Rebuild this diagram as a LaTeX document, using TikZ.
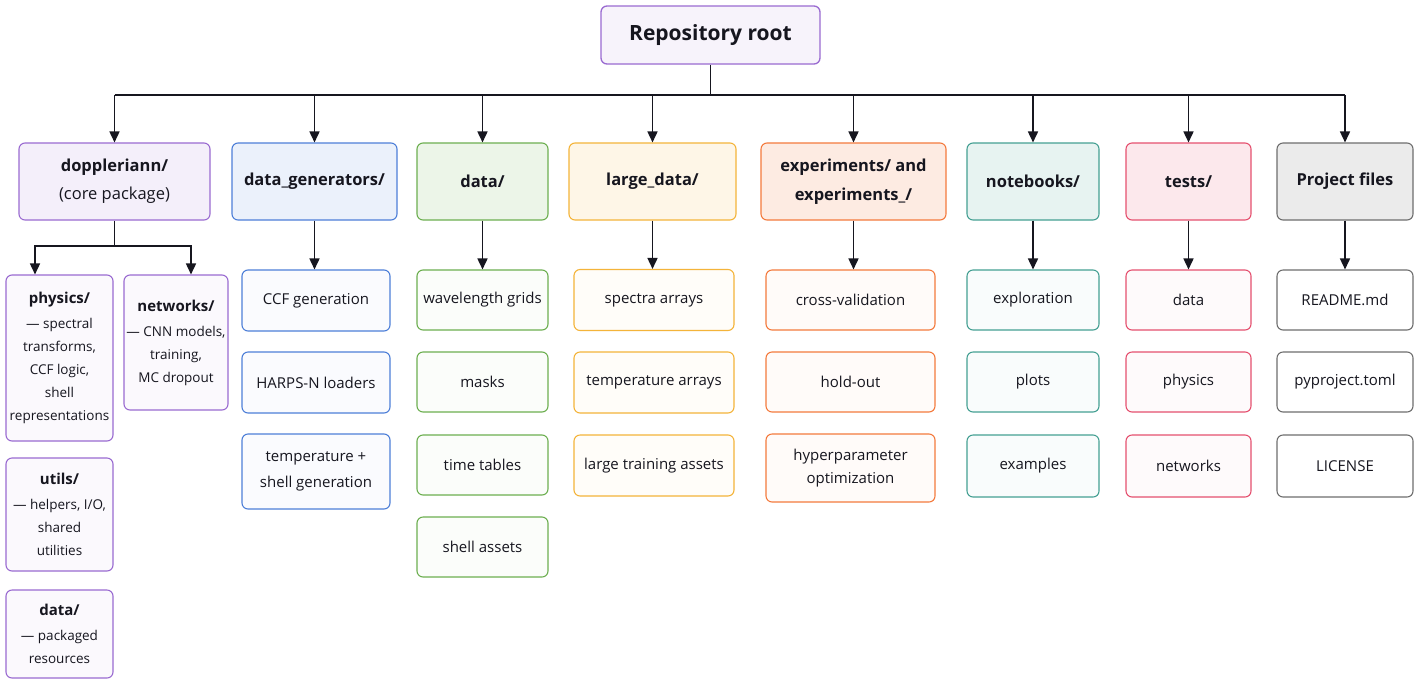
\documentclass[tikz,border=0pt]{standalone}
\usepackage{fontspec}
\setmainfont{Open Sans}
\usepackage{tikz}
\usetikzlibrary{positioning,arrows.meta,calc}
\definecolor{ink}     {HTML}{16161F}
\definecolor{plum}    {HTML}{9A6BD1}
\definecolor{cobalt}  {HTML}{4D7FD8}
\definecolor{leaf}    {HTML}{6DAF50}
\definecolor{amber}   {HTML}{F4B43A}
\definecolor{tangelo} {HTML}{F47A3D}
\definecolor{teal}    {HTML}{45A093}
\definecolor{rose}    {HTML}{E5506F}
\definecolor{slate}   {HTML}{6E6E6E}
\tikzset{
  x=1pt, y=-1pt,
  every node/.style={text=ink},
  % --- boxes
  box/.style   = {rounded corners=6pt, line width=1.1pt, align=center, inner sep=0pt,
                  font=\fontsize{15}{26}\selectfont},
  top/.style   = {box, minimum height=77pt, font=\fontsize{16.5}{29}\selectfont\bfseries},
  sub/.style   = {box, minimum height=61pt},
  pkg/.style   = {box, draw=plum, fill=plum!4, font=\fontsize{13.5}{23}\selectfont},
  % one colour per column: the folder box and its entries
  ptop/.style  = {top, draw=plum, fill=plum!11},
  gtop/.style  = {top, draw=cobalt, fill=cobalt!11},  gsub/.style={sub, draw=cobalt, fill=cobalt!3},
  dtop/.style  = {top, draw=leaf, fill=leaf!13},      dsub/.style={sub, draw=leaf, fill=leaf!3},
  ltop/.style  = {top, draw=amber, fill=amber!12},    lsub/.style={sub, draw=amber, fill=amber!3},
  xtop/.style  = {top, draw=tangelo, fill=tangelo!15},xsub/.style={sub, draw=tangelo, fill=tangelo!3},
  ntop/.style  = {top, draw=teal, fill=teal!13},      nsub/.style={sub, draw=teal, fill=teal!3},
  ttop/.style  = {top, draw=rose, fill=rose!13},      tsub/.style={sub, draw=rose, fill=rose!3},
  ftop/.style  = {top, draw=slate, fill=slate!14},    fsub/.style={sub, draw=slate, fill=white},
  % --- edges
  ln/.style    = {line width=1.6pt, draw=ink},
  e/.style     = {ln, -{Triangle[length=11pt,width=10pt]}},
}
\begin{document}
\begin{tikzpicture}
  \useasboundingbox (0,0) rectangle (1426,694);
  \fill[white] (0,0) rectangle (1426,694);

  \node[box, draw=plum, fill=plum!8, line width=1.3pt, minimum width=219pt, minimum height=58pt,
        font=\fontsize{21}{25}\selectfont\bfseries] (root) at (710.5,35) {Repository root};

  % folders
  \node[ptop, minimum width=191pt] (dop) at (114.5,181.5)
    {doppleriann/\\[-1pt]{\mdseries (core package)}};
  \node[gtop, minimum width=165pt] (gen) at (314.5,181.5) {data\_generators/};
  \node[dtop, minimum width=131pt] (dat) at (482.5,181.5) {data/};
  \node[ltop, minimum width=167pt] (lrg) at (652.5,181.5) {large\_data/};
  \node[xtop, minimum width=185pt] (exp) at (853.5,181.5) {experiments/ and\\experiments\_/};
  \node[ntop, minimum width=132pt] (nbk) at (1033,181.5) {notebooks/};
  \node[ttop, minimum width=125pt] (tst) at (1188.5,181.5) {tests/};
  \node[ftop, minimum width=136pt] (prj) at (1345,181.5) {Project files};

  % bus from the root
  \coordinate (bus) at (710.5,95);
  \draw[ln] (root.south) -- (bus);
  \draw[ln] (bus -| dop.north) -- (bus -| prj.north);
  \foreach \n in {dop,gen,dat,lrg,exp,nbk,tst,prj}
    \draw[e] (bus -| \n.north) -- (\n.north);

  % doppleriann/ subpackages
  \node[pkg, minimum width=107pt, minimum height=166pt] (phy) at (59.5,358)
    {\textbf{\fontsize{15}{23}\selectfont physics/}\\[2pt]--- spectral\\transforms,\\CCF logic,\\shell\\representations};
  \node[pkg, minimum width=104pt, minimum height=135pt] (net) at (176,342.5)
    {\textbf{\fontsize{15}{23}\selectfont networks/}\\[2pt]--- CNN models,\\training,\\MC dropout};
  \node[pkg, minimum width=107pt, minimum height=113pt] (utl) at (59.5,514.5)
    {\textbf{\fontsize{15}{23}\selectfont utils/}\\[2pt]--- helpers, I/O,\\shared\\utilities};
  \node[pkg, minimum width=107pt, minimum height=88pt] (pdt) at (59.5,634)
    {\textbf{\fontsize{15}{23}\selectfont data/}\\[2pt]--- packaged\\resources};
  \coordinate (split) at (114.5,246);
  \draw[ln] (dop.south) -- (split);
  \draw[e] (split) -| ([xshift=-24.5pt]phy.north);
  \draw[e] (split) -| ([xshift=15pt]net.north);

  % data_generators/
  \node[gsub, minimum width=148pt] (gen1) at (316,300.5) {CCF generation};
  \node[gsub, minimum width=148pt] (gen2) at (316,382.5) {HARPS-N loaders};
  \node[gsub, minimum width=148pt, minimum height=75pt] (gen3) at (316,471.5)
    {temperature +\\shell generation};

  % data/
  \node[dsub, minimum width=131pt, minimum height=60pt] (dat1) at (482.5,300) {wavelength grids};
  \node[dsub, minimum width=131pt, minimum height=60pt] (dat2) at (482.5,382) {masks};
  \node[dsub, minimum width=131pt, minimum height=60pt] (dat3) at (482.5,465) {time tables};
  \node[dsub, minimum width=131pt, minimum height=60pt] (dat4) at (482.5,547) {shell assets};

  % large_data/
  \node[lsub, minimum width=160pt] (lrg1) at (654,300) {spectra arrays};
  \node[lsub, minimum width=160pt] (lrg2) at (654,382.5) {temperature arrays};
  \node[lsub, minimum width=160pt] (lrg3) at (654,465.5) {large training assets};

  % experiments/
  \node[xsub, minimum width=169pt, minimum height=60pt] (exp1) at (850.5,300) {cross-validation};
  \node[xsub, minimum width=169pt, minimum height=60pt] (exp2) at (850.5,382) {hold-out};
  \node[xsub, minimum width=169pt, minimum height=68pt] (exp3) at (850.5,468)
    {hyperparameter\\[-3pt]optimization};

  % notebooks/
  \node[nsub, minimum width=132pt, minimum height=60pt] (nbk1) at (1033,300) {exploration};
  \node[nsub, minimum width=132pt, minimum height=60pt] (nbk2) at (1033,382) {plots};
  \node[nsub, minimum width=132pt, minimum height=62pt] (nbk3) at (1033,466) {examples};

  % tests/
  \node[tsub, minimum width=125pt, minimum height=60pt] (tst1) at (1188.5,300) {data};
  \node[tsub, minimum width=125pt, minimum height=60pt] (tst2) at (1188.5,382) {physics};
  \node[tsub, minimum width=125pt, minimum height=62pt] (tst3) at (1188.5,466) {networks};

  % project files
  \node[fsub, minimum width=136pt, minimum height=60pt] (prj1) at (1345,300) {README.md};
  \node[fsub, minimum width=136pt, minimum height=60pt] (prj2) at (1345,382) {pyproject.toml};
  \node[fsub, minimum width=136pt, minimum height=62pt] (prj3) at (1345,466) {LICENSE};

  \foreach \n in {gen,dat,lrg,exp,nbk,tst,prj}
    \draw[e] (\n.south) -- (\n.south |- \n1.north);
\end{tikzpicture}
\end{document}
